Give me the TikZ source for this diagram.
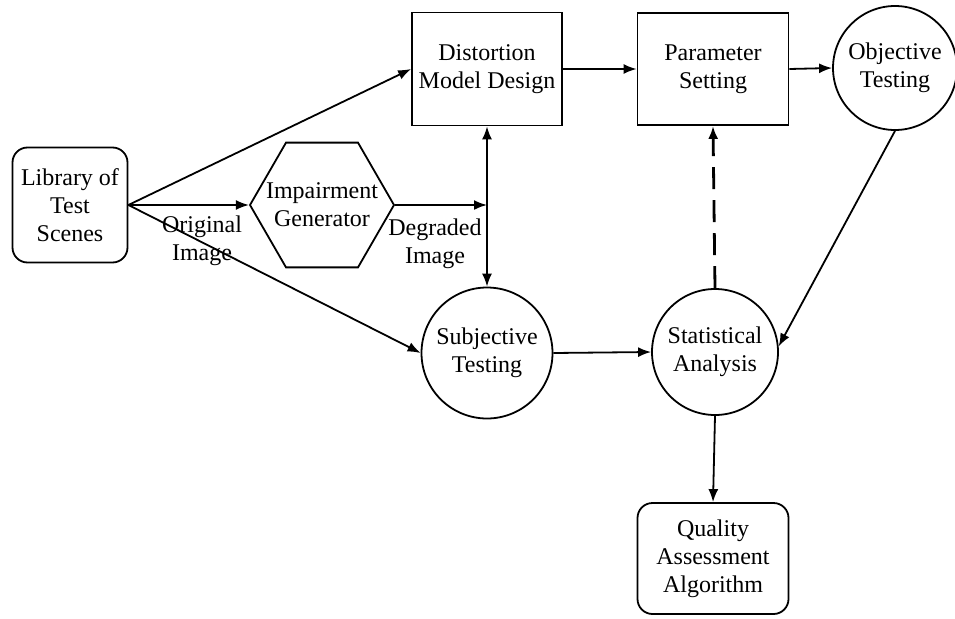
\documentclass[tikz,border=0pt]{standalone}
\usepackage{fontspec}
\setmainfont{Liberation Serif}
\usetikzlibrary{arrows.meta,shapes.geometric}

\begin{document}
\begin{tikzpicture}[x=1pt,y=-1pt,
  every node/.style={font=\fontsize{24}{28}\selectfont,align=center,inner sep=0pt},
  roundbox/.style={draw,rounded corners=15pt},
  sqbox/.style={draw},
  disc/.style={draw,circle},
  hexa/.style={draw,regular polygon,regular polygon sides=6,minimum size=144pt},
  flow/.style={-{Latex[length=13pt,width=10pt]}},
  line width=1.8pt]
  \useasboundingbox (0,0) rectangle (955,618);
  \begin{scope}
   \node[roundbox,minimum width=115pt,minimum height=115pt] (lib)   at (70,205)    {Library of\\Test\\Scenes};
   \node[hexa,label=center:{Impairment\\Generator}]         (gen)   at (322,205)   {};
   \node[sqbox,minimum width=150pt,minimum height=113pt]    (dist)  at (487,69)    {Distortion\\Model Design};
   \node[sqbox,minimum width=151pt,minimum height=112pt]    (param) at (713,69)    {Parameter\\Setting};
   \node[disc,minimum size=124pt]                           (obj)   at (895,68)    {Objective\\Testing};
   \node[disc,minimum size=131pt]                           (subj)  at (487,353)   {Subjective\\Testing};
   \node[disc,minimum size=126pt]                           (stat)  at (715,352)   {Statistical\\Analysis};
   \node[roundbox,minimum width=151pt,minimum height=111pt] (qual)  at (713,558.5) {Quality\\Assessment\\Algorithm};
   \node (origlbl) at (202,241) {Original\\Image};
   \node (deglbl)  at (435,244) {Degraded\\Image};
   \coordinate (merge) at (dist.south |- gen.east);
   \draw[flow] (lib.east)   -- (dist.west);
   \draw[flow] (lib.east)   -- (gen.west);
   \draw[flow] (lib.east)   -- (subj.west);
   \draw[flow] (gen.east)   -- (merge);
   \draw[{Latex[length=13pt,width=10pt]}-{Latex[length=13pt,width=10pt]}] (dist.south) -- (subj.north);
   \draw[flow] (dist.east)  -- (param.west);
   \draw[flow] (param.east) -- (obj.west);
   \draw[flow] (obj.south)  -- (stat.5);
   \draw[flow] (subj.east)  -- (stat.west);
   \draw[flow,line width=2.8pt,dash pattern=on 22pt off 11pt] (stat.north) -- (param.south);
   \draw[flow] (stat.south) -- (qual.north);
  \end{scope}
\end{tikzpicture}
\end{document}
